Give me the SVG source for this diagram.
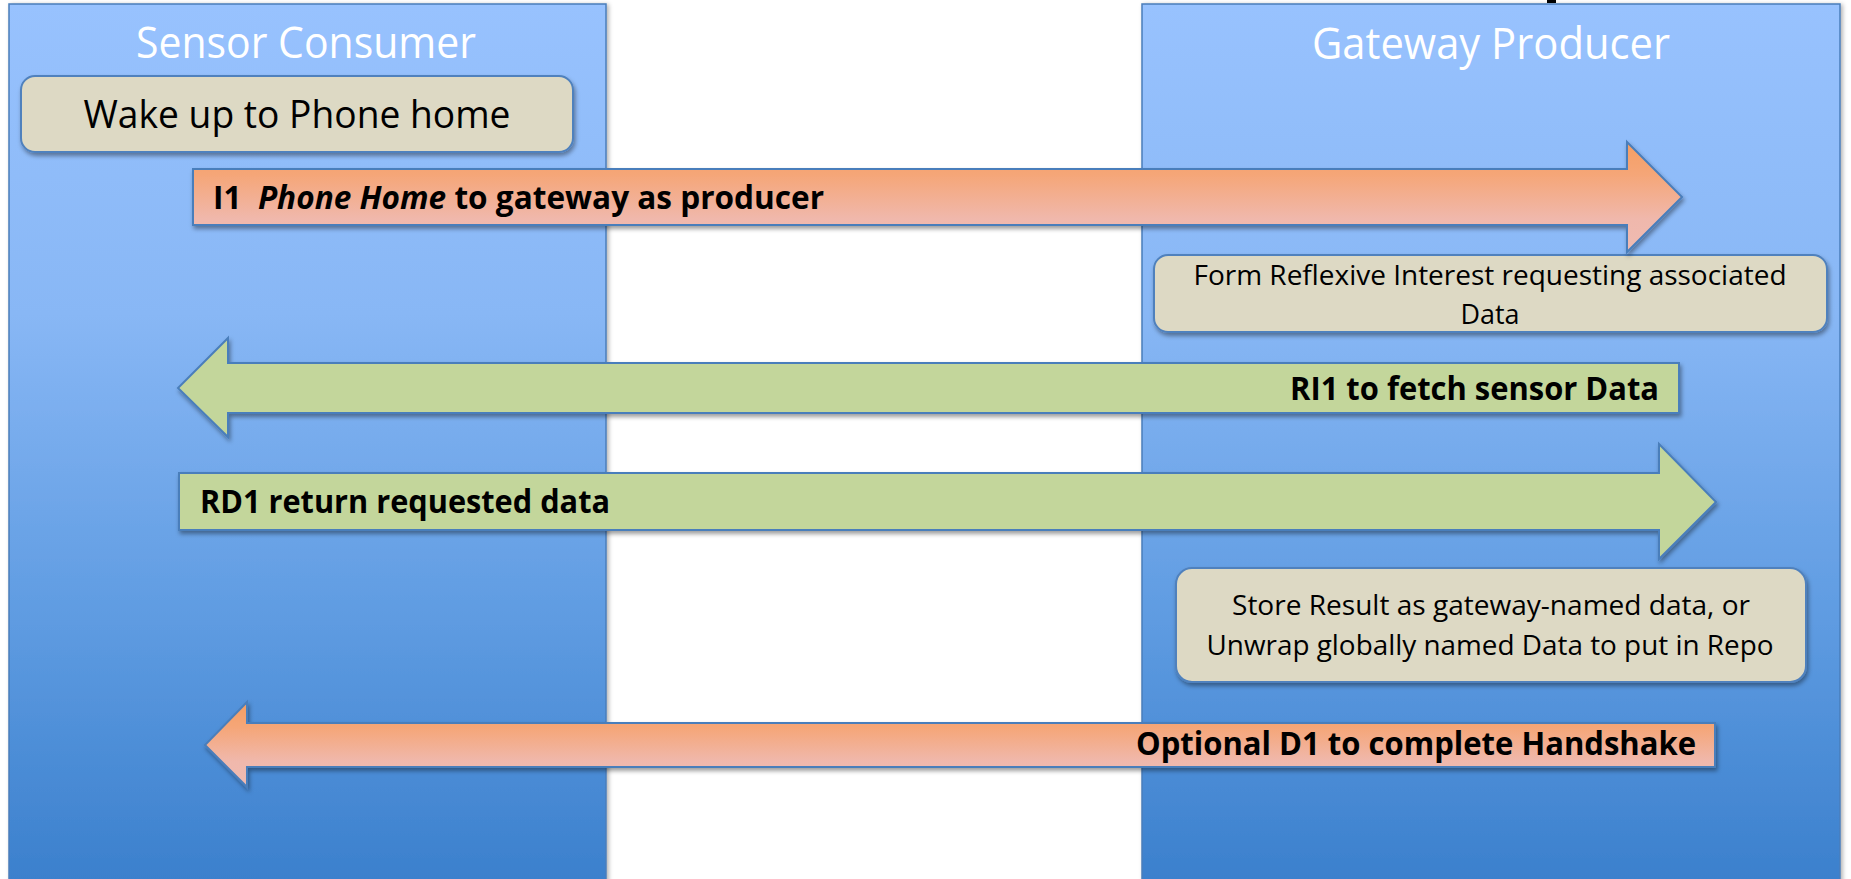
<svg xmlns="http://www.w3.org/2000/svg" width="1851" height="879" viewBox="0 0 1851 879">
  <defs>
    <linearGradient id="laneFill" x1="0" y1="0" x2="0" y2="1">
      <stop offset="0" stop-color="#98C2FE"/>
      <stop offset="0.35" stop-color="#88B7F5"/>
      <stop offset="0.7" stop-color="#5E9BE1"/>
      <stop offset="1" stop-color="#3A7FCC"/>
    </linearGradient>
    <linearGradient id="orangeFill" x1="0" y1="0" x2="0" y2="1">
      <stop offset="0" stop-color="#F59E62"/>
      <stop offset="0.3" stop-color="#F5A678"/>
      <stop offset="0.7" stop-color="#F0B8AC"/>
      <stop offset="1" stop-color="#EFBBB2"/>
    </linearGradient>
    <filter id="shadow" x="-5%" y="-20%" width="110%" height="150%">
      <feDropShadow dx="1.5" dy="3" stdDeviation="2" flood-color="#000" flood-opacity="0.38"/>
    </filter>
    <filter id="laneShadow" x="-5%" y="-5%" width="110%" height="110%">
      <feDropShadow dx="2" dy="1" stdDeviation="2" flood-color="#000" flood-opacity="0.3"/>
    </filter>
  </defs>
  <style>
    .lane { fill: url(#laneFill); stroke: #4A7EBB; stroke-width: 1.5; filter: url(#laneShadow); }
    .title { font-family: "Open Sans", "Liberation Sans", sans-serif; font-size: 43px; fill: #FFFFFF; }
    .box { fill: #DDD9C4; stroke: #4F81BD; stroke-width: 2; filter: url(#shadow); }
    .boxText { font-family: "Open Sans", "Liberation Sans", sans-serif; fill: #000000; }
    .arrow { stroke: #4A7EBB; stroke-width: 2; filter: url(#shadow); }
    .orange { fill: url(#orangeFill); }
    .green { fill: #C3D69B; }
    .label { font-family: "Open Sans", "Liberation Sans", sans-serif; font-weight: bold; font-size: 32px; fill: #000000; white-space: pre; }
  </style>

  <rect width="1851" height="879" fill="#FFFFFF"/>

  <!-- fragment of a heading above the frame -->
  <rect x="1547" y="0" width="9" height="3" fill="#000000"/>

  <!-- swim lanes -->
  <g id="lane-consumer">
    <rect class="lane" x="9" y="4" width="597" height="885"/>
    <text class="title" x="306" y="58" text-anchor="middle" textLength="340" lengthAdjust="spacingAndGlyphs">Sensor Consumer</text>
  </g>
  <g id="lane-producer">
    <rect class="lane" x="1142" y="4" width="698" height="885"/>
    <text class="title" x="1491" y="59" text-anchor="middle" textLength="358" lengthAdjust="spacingAndGlyphs">Gateway Producer</text>
  </g>

  <!-- process steps -->
  <g id="box-wake">
    <rect class="box" x="21" y="76" width="552" height="76" rx="14"/>
    <text class="boxText" x="297" y="128" font-size="38" text-anchor="middle" textLength="427" lengthAdjust="spacingAndGlyphs">Wake up to Phone home</text>
  </g>
  <g id="box-form">
    <rect class="box" x="1154" y="255" width="673" height="77" rx="14"/>
    <text class="boxText" x="1490" y="285" font-size="28" text-anchor="middle" textLength="593" lengthAdjust="spacingAndGlyphs">Form Reflexive Interest requesting associated</text>
    <text class="boxText" x="1490" y="324" font-size="28" text-anchor="middle" textLength="59" lengthAdjust="spacingAndGlyphs">Data</text>
  </g>
  <g id="box-store">
    <rect class="box" x="1176" y="568" width="630" height="114" rx="16"/>
    <text class="boxText" x="1491" y="615" font-size="27" text-anchor="middle" textLength="518" lengthAdjust="spacingAndGlyphs">Store Result as gateway-named data, or</text>
    <text class="boxText" x="1490" y="655" font-size="27" text-anchor="middle" textLength="567" lengthAdjust="spacingAndGlyphs">Unwrap globally named Data to put in Repo</text>
  </g>

  <!-- message arrows -->
  <g id="connectors">
    <g id="msg-i1">
      <path class="arrow orange" d="M193,169 H1627 V142 L1682,197 L1627,252 V225 H193 Z"/>
      <text class="label" x="213" y="209" textLength="611" lengthAdjust="spacingAndGlyphs">I1  <tspan font-style="italic">Phone Home</tspan> to gateway as producer</text>
    </g>
    <g id="msg-ri1">
      <path class="arrow green" d="M1679,363 H228 V338 L178,388 L228,437 V413 H1679 Z"/>
      <text class="label" x="1659" y="400" text-anchor="end" textLength="369" lengthAdjust="spacingAndGlyphs">RI1 to fetch sensor Data</text>
    </g>
    <g id="msg-rd1">
      <path class="arrow green" d="M179,473 H1659 V444 L1716,502 L1659,559 V530 H179 Z"/>
      <text class="label" x="200" y="513" textLength="410" lengthAdjust="spacingAndGlyphs">RD1 return requested data</text>
    </g>
    <g id="msg-d1">
      <path class="arrow orange" d="M1715,723 H247 V702 L205,745 L247,787 V767 H1715 Z"/>
      <text class="label" x="1136" y="755" textLength="560" lengthAdjust="spacingAndGlyphs">Optional D1 to complete Handshake</text>
    </g>
  </g>
</svg>
